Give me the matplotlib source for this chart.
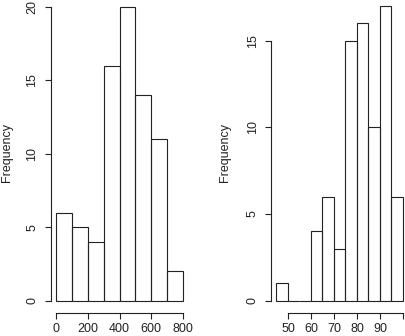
import numpy as np
import matplotlib.pyplot as plt

# left histogram: bins of 100 from 0 to 800
left_edges = [0, 100, 200, 300, 400, 500, 600, 700, 800]
left_counts = [6, 5, 4, 16, 20, 14, 11, 2]
left_xticks = [0, 200, 400, 600, 800]
left_xlabels = ['0', '200', '400', '600', '800']
left_yticks = [0, 5, 10, 15, 20]

# right histogram: bins of 5 from 45 to 100
right_edges = [45, 50, 55, 60, 65, 70, 75, 80, 85, 90, 95, 100]
right_counts = [1, 0, 0, 4, 6, 3, 15, 16, 10, 17, 6]
right_xticks = [50, 60, 70, 80, 90, 100]
right_xlabels = ['50', '60', '70', '80', '90', '']  # 100 falls off the page
right_yticks = [0, 5, 10, 15]

plt.rcParams['font.family'] = ['Liberation Sans', 'DejaVu Sans']
plt.rcParams['font.size'] = 9

W, H = 405, 336
fig = plt.figure(figsize=(W / 100, H / 100), dpi=100)


def r_hist(rect, edges, counts, xticks, xlabels, yticks, xlim, ylim):
    ax = fig.add_axes(rect)
    edges = np.array(edges)
    ax.bar(edges[:-1], counts, width=np.diff(edges), align='edge',
           fill=False, edgecolor='#222222', linewidth=0.8)
    ax.set_xlim(*xlim)
    ax.set_ylim(*ylim)
    for s in ['top', 'right']:
        ax.spines[s].set_visible(False)
    for s in ['left', 'bottom']:
        ax.spines[s].set_color('#222222')
        ax.spines[s].set_linewidth(0.8)
    ax.spines['bottom'].set_bounds(xticks[0], xticks[-1])
    ax.spines['left'].set_bounds(yticks[0], yticks[-1])
    ax.set_xticks(xticks)
    ax.set_xticklabels(xlabels)
    ax.set_yticks(yticks)
    ax.set_yticklabels([str(t) for t in yticks], rotation=90, va='center')
    ax.tick_params(axis='both', length=4.2, width=0.8, color='#222222',
                   labelcolor='#222222')
    ax.tick_params(axis='x', pad=3.5)
    ax.tick_params(axis='y', pad=5)
    ax.patch.set_visible(False)
    return ax


r_hist([51 / W, 1 - 312.5 / H, 137 / W, 317.5 / H],
       left_edges, left_counts, left_xticks, left_xlabels, left_yticks,
       (-32, 832), (-0.8, 20.8))
r_hist([271.4 / W, 1 - 312.5 / H, 136.6 / W, 318.2 / H],
       right_edges, right_counts, right_xticks, right_xlabels, right_yticks,
       (42.8, 102.2), (-0.68, 17.68))

fig.text(7 / W, 1 - 153 / H, 'Frequency', rotation=90, ha='center',
         va='center', color='#222222')
fig.text(225 / W, 1 - 153 / H, 'Frequency', rotation=90, ha='center',
         va='center', color='#222222')

fig.savefig('out.png', dpi=100)
